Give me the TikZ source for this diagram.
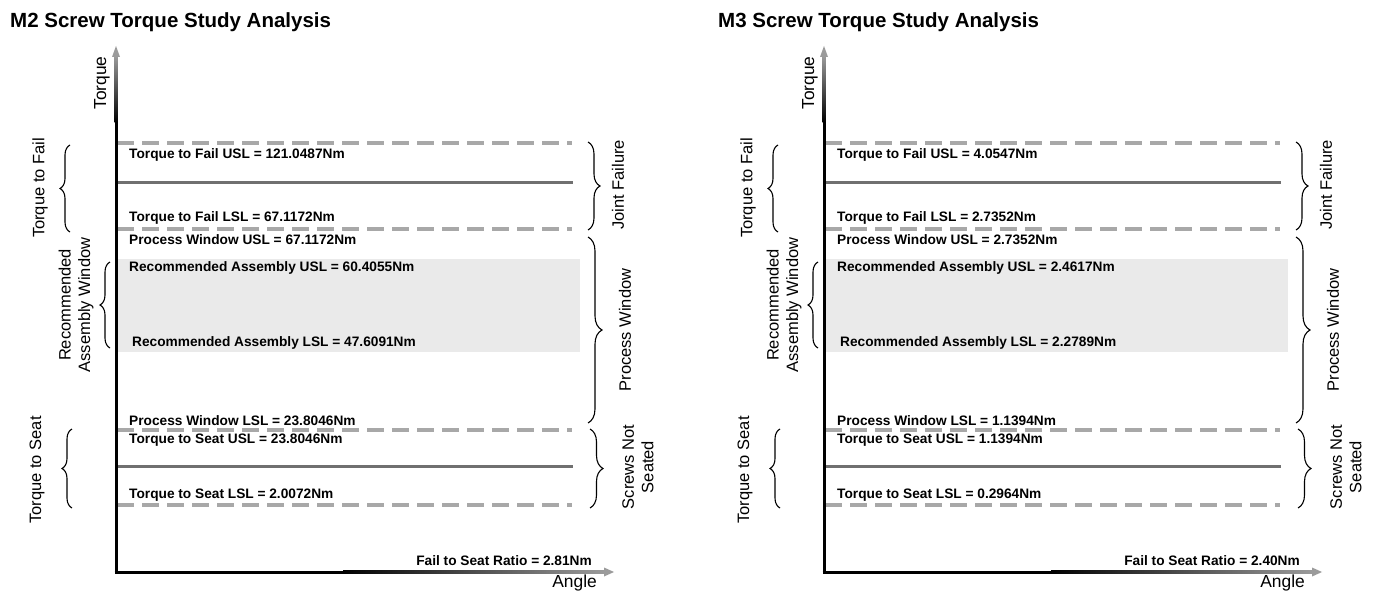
\documentclass[tikz,border=0pt]{standalone}
\usepackage{fontspec}
\setmainfont{Liberation Sans}
\usetikzlibrary{decorations.pathreplacing}

\definecolor{limgray}{RGB}{168,168,168}
\definecolor{midgray}{RGB}{112,112,112}
\definecolor{bandgray}{RGB}{234,234,234}
\definecolor{axgray}{RGB}{155,155,155}

\tikzset{
  limit/.style={draw=limgray, line width=3.2pt, dash pattern=on 17pt off 8pt},
  target/.style={draw=midgray, line width=3pt},
  val/.style={anchor=west, inner sep=0pt, font=\fontsize{13.7}{15}\selectfont\bfseries},
  zone/.style={rotate=90, inner sep=0pt, align=center, font=\fontsize{16.5}{19.5}\selectfont},
  axlabel/.style={inner sep=0pt, font=\fontsize{17.4}{20}\selectfont},
  brc/.style={decorate, decoration={brace, amplitude=#1}, line width=1.1pt},
  brc/.default=10pt,
  paneltitle/.style={anchor=west, inner sep=0pt, font=\fontsize{20.5}{22}\selectfont\bfseries}
}

% one study panel: #1 screw, #2 fail USL, #3 fail LSL, #4 rec USL,
% #5 rec LSL, #6 seat USL, #7 seat LSL, #8 ratio
\newcommand{\screwpanel}[8]{%
  \node[paneltitle] (title) at (10,22) {#1 Screw Torque Study Analysis};
  % recommended band
  \fill[bandgray] (118,259) rectangle (580,352);
  % limits
  \draw[limit] (117,143) -- (572,143);
  \draw[target] (117,182) -- (573,182);
  \draw[limit] (117,229) -- (572,229);
  \draw[limit] (117,430) -- (572,430);
  \draw[target] (117,466) -- (573,466);
  \draw[limit] (117,505) -- (572,505);
  % axes
  \coordinate (o) at (116,572);
  \coordinate (ytop) at (116,46);
  \coordinate (xend) at (614,572);
  \draw[line width=3pt] (116,573.5) -- (116,122);
  \shade[top color=axgray, bottom color=black] (114.5,122) rectangle (117.5,56);
  \fill[axgray] (ytop) -- (112,57) -- (120,57) -- cycle;
  \draw[line width=3pt] (114.5,572) -- (343,572);
  \shade[left color=black, right color=axgray] (343,570.5) rectangle (605,573.5);
  \fill[axgray] (xend) -- (604,567.5) -- (604,576.5) -- cycle;
  \node[axlabel, rotate=90] (torque) at (102,83) {Torque};
  \node[axlabel, anchor=east] (angle) at (597,583) {Angle};
  % values
  \node[val] (fusl) at (129,155) {Torque to Fail USL = #2Nm};
  \node[val] (flsl) at (129,218) {Torque to Fail LSL = #3Nm};
  \node[val] (pwusl) at (129,240) {Process Window USL = #3Nm};
  \node[val] (rausl) at (129,268) {Recommended Assembly USL = #4Nm};
  \node[val] (ralsl) at (132,343) {Recommended Assembly LSL = #5Nm};
  \node[val] (pwlsl) at (129,421) {Process Window LSL = #6Nm};
  \node[val] (susl) at (129,440) {Torque to Seat USL = #6Nm};
  \node[val] (slsl) at (129,495) {Torque to Seat LSL = #7Nm};
  \node[val, anchor=east] (ratio) at (592,561) {Fail to Seat Ratio = #8Nm};
  % braces left
  \coordinate (lf1) at (70,232); \coordinate (lf2) at (70,145);
  \coordinate (lr1) at (110,348); \coordinate (lr2) at (110,262);
  \coordinate (ls1) at (72,508); \coordinate (ls2) at (72,429);
  \draw[brc] (lf1) -- (lf2);
  \draw[brc] (lr1) -- (lr2);
  \draw[brc] (ls1) -- (ls2);
  \node[zone] (lfail) at (40,188) {Torque to Fail};
  \node[zone] (lraw) at (76,305) {Recommended\\Assembly Window};
  \node[zone] (lseat) at (37,470) {Torque to Seat};
  % braces right
  \coordinate (rj1) at (588,142); \coordinate (rj2) at (588,230);
  \coordinate (rp1) at (588,237); \coordinate (rp2) at (588,423);
  \coordinate (rs1) at (590,429); \coordinate (rs2) at (590,508);
  \draw[brc=12pt] (rj1) -- (rj2);
  \draw[brc=14pt] (rp1) -- (rp2);
  \draw[brc=13pt] (rs1) -- (rs2);
  \node[zone] (rjoint) at (618,185) {Joint Failure};
  \node[zone] (rpw) at (625,330) {Process Window};
  \node[zone] (rscrew) at (638,467) {Screws Not\\Seated};
}

\begin{document}
\begin{tikzpicture}[x=1pt, y=-1pt]
\useasboundingbox[fill=white] (0,0) rectangle (1381,594);

%M2
\begin{scope}[name prefix=m2-]
  \screwpanel{M2}{121.0487}{67.1172}{60.4055}{47.6091}{23.8046}{2.0072}{2.81}
\end{scope}

%M3
\begin{scope}[name prefix=m3-, xshift=708]
  \screwpanel{M3}{4.0547}{2.7352}{2.4617}{2.2789}{1.1394}{0.2964}{2.40}
\end{scope}

\end{tikzpicture}
\end{document}
